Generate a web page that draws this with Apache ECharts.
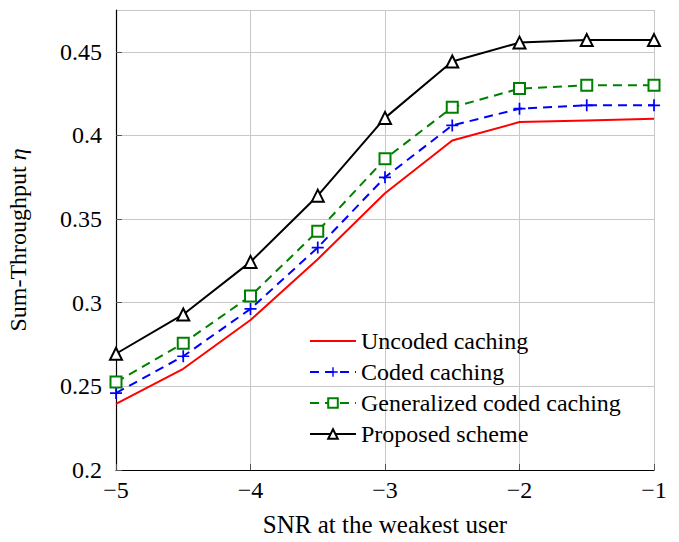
<!DOCTYPE html>
<html>
<head>
<meta charset="utf-8">
<script src="https://cdn.jsdelivr.net/npm/echarts@6/dist/echarts.min.js"></script>
<style>
  html, body { margin: 0; padding: 0; background: #fff; }
  #main { width: 679px; height: 542px; }
</style>
</head>
<body>
<div id="main"></div>
<script>
const snr = [-5, -4.5, -4, -3.5, -3, -2.5, -2, -1.5, -1]
const uncoded = [0.2395, 0.2605, 0.2897, 0.326, 0.3655, 0.397, 0.408, 0.409, 0.410]
const coded = [0.246, 0.268, 0.2963, 0.333, 0.375, 0.406, 0.416, 0.418, 0.418]
const generalized = [0.2526, 0.2758, 0.304, 0.3428, 0.386, 0.4168, 0.428, 0.430, 0.430]
const proposed = [0.2695, 0.293, 0.3244, 0.364, 0.4105, 0.4442, 0.4555, 0.457, 0.457]
const names = ['Uncoded caching', 'Coded caching', 'Generalized coded caching', 'Proposed scheme']

const chart = echarts.init(document.getElementById('main'), null, { renderer: 'svg' })
const font = 'Liberation Serif'
const plus = 'path://M-1,-7 L1,-7 L1,-1 L7,-1 L7,1 L1,1 L1,7 L-1,7 L-1,1 L-7,1 L-7,-1 L-1,-1 Z'
const pairs = arr => snr.map((x, i) => [x, arr[i]])

const option = {
  animation: false,
  textStyle: { fontFamily: font },
  grid: { left: 116, right: 25, top: 10, bottom: 72, outerBoundsMode: 'none', containLabel: false },
  xAxis: {
    type: 'value',
    min: -5, max: -1, interval: 1,
    name: 'SNR at the weakest user',
    nameLocation: 'middle', nameGap: 42,
    nameTextStyle: { fontFamily: font, fontSize: 25, color: '#000' },
    axisLine: { show: true, onZero: false, lineStyle: { color: '#000', width: 1.2 } },
    axisTick: { show: true, inside: true, length: 6, lineStyle: { color: '#555' } },
    axisLabel: {
      fontFamily: font, fontSize: 24, color: '#000', margin: 8,
      formatter: v => (v < 0 ? '\u2212' + Math.abs(v) : String(v))
    },
    splitLine: { show: true, lineStyle: { color: '#c8c8c8', width: 1 } }
  },
  yAxis: {
    type: 'value',
    min: 0.2, max: 0.475, interval: 0.05,
    name: '{n|Sum-Throughput }{e|\u03b7}',
    nameLocation: 'middle', nameGap: 86,
    nameTextStyle: {
      fontFamily: font, fontSize: 24, color: '#000',
      rich: {
        n: { fontFamily: font, fontSize: 24, color: '#000' },
        e: { fontFamily: font, fontSize: 24, color: '#000', fontStyle: 'italic' }
      }
    },
    axisLine: { show: true, lineStyle: { color: '#000', width: 1.2 } },
    axisTick: { show: true, inside: true, length: 6, lineStyle: { color: '#555' } },
    axisLabel: {
      fontFamily: font, fontSize: 24, color: '#000', margin: 14,
      showMaxLabel: false,
      formatter: v => (v > 0.47 ? '' : String(+v.toFixed(2)))
    },
    splitLine: { show: true, lineStyle: { color: '#c8c8c8', width: 1 } }
  },
  legend: {
    orient: 'vertical',
    left: 304, top: 324,
    itemWidth: 46, itemHeight: 12, itemGap: 7,
    textStyle: { fontFamily: font, fontSize: 24, color: '#000' },
    data: [
      { name: names[0], itemStyle: { opacity: 0 } },
      { name: names[1] },
      { name: names[2] },
      { name: names[3] }
    ]
  },
  series: [
    {
      name: names[0], type: 'line', data: pairs(uncoded),
      symbol: 'none', color: '#ff0000',
      lineStyle: { color: '#ff0000', width: 2 }
    },
    {
      name: names[1], type: 'line', data: pairs(coded),
      symbol: plus, symbolSize: 12, color: '#0000ff',
      itemStyle: { color: '#0000ff' },
      lineStyle: { color: '#0000ff', width: 2, type: [9, 6] }
    },
    {
      name: names[2], type: 'line', data: pairs(generalized),
      symbol: 'rect', symbolSize: 11, color: '#008000',
      itemStyle: { color: '#fff', borderColor: '#008000', borderWidth: 2 },
      lineStyle: { color: '#008000', width: 2, type: [9, 6] }
    },
    {
      name: names[3], type: 'line', data: pairs(proposed),
      symbol: 'triangle', symbolSize: 12, color: '#000',
      itemStyle: { color: '#fff', borderColor: '#000', borderWidth: 2 },
      lineStyle: { color: '#000', width: 2 }
    }
  ]
}

chart.setOption(option)
</script>
</body>
</html>
